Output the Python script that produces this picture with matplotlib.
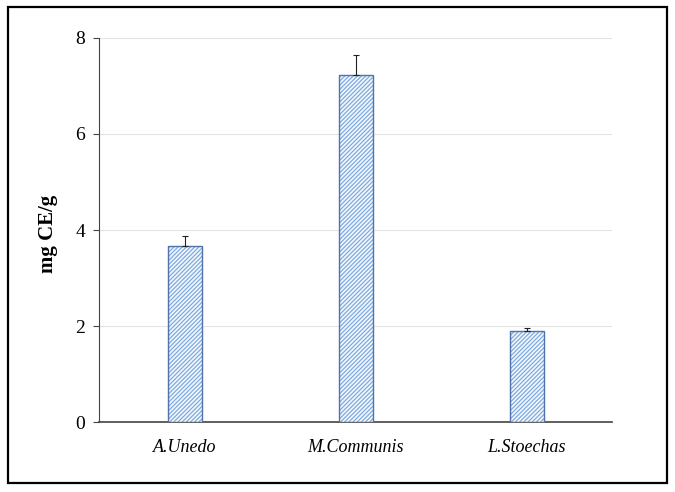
import matplotlib
matplotlib.use("Agg")
import matplotlib.pyplot as plt
from matplotlib.patches import Rectangle

species = ["A.Unedo", "M.Communis", "L.Stoechas"]
values = [3.67, 7.22, 1.89]
errors = [0.20, 0.43, 0.07]

plt.rcParams["font.family"] = ["Liberation Serif", "DejaVu Serif"]
plt.rcParams["hatch.linewidth"] = 0.9

fig = plt.figure(figsize=(6.75, 4.92), dpi=100)
ax = fig.add_axes([0.147, 0.142, 0.76, 0.781])

x = range(len(species))
# hatched fill (hatch takes the edge colour, so outline drawn separately)
ax.bar(x, values, width=0.2, color="#f4f8fd", edgecolor="#7eaae0",
       linewidth=0, hatch="////////", zorder=3)
ax.bar(x, values, width=0.2, fill=False, edgecolor="#4f73aa",
       linewidth=1.0, zorder=3)
ax.errorbar(x, values, yerr=[[0] * len(errors), errors], fmt="none",
            ecolor="#222222", elinewidth=0.8, capsize=2, capthick=0.8, zorder=4)

ax.set_xlim(-0.5, 2.5)
ax.set_ylim(0, 8)
ax.set_yticks([0, 2, 4, 6, 8])
ax.yaxis.grid(True, color="#e3e3e3", linewidth=0.8, zorder=0)
ax.set_axisbelow(True)

ax.set_xticks(list(x))
ax.set_xticklabels(species, fontstyle="italic", fontsize=13)
ax.tick_params(axis="x", length=0, pad=12)
ax.tick_params(axis="y", labelsize=14, length=4, width=0.8, color="#444444", pad=6)

for s in ("top", "right"):
    ax.spines[s].set_visible(False)
ax.spines["left"].set_color("#444444")
ax.spines["bottom"].set_color("#444444")
ax.spines["bottom"].set_linewidth(1.2)

ax.set_ylabel("mg CE/g", fontsize=15, fontweight="bold")
ax.yaxis.set_label_coords(-0.08, 0.49)

fig.patches.append(Rectangle((0.012, 0.018), 0.976, 0.968, transform=fig.transFigure,
                             fill=False, edgecolor="black", linewidth=1.6))

fig.savefig("out.png", dpi=100)
